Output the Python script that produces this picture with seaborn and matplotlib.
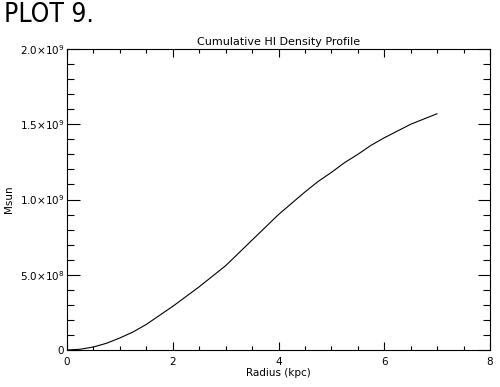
import numpy as np
import pandas as pd
import matplotlib
matplotlib.use("Agg")
import matplotlib.pyplot as plt
import seaborn as sns
from matplotlib.ticker import MultipleLocator, FixedLocator

# values
radius = [0.0, 0.25, 0.5, 0.75, 1.0, 1.25, 1.5, 1.75, 2.0, 2.25, 2.5, 2.75, 3.0,
          3.25, 3.5, 3.75, 4.0, 4.25, 4.5, 4.75, 5.0, 5.25, 5.5, 5.75, 6.0,
          6.25, 6.5, 6.75, 7.0]
msun = [0.0, 0.005e9, 0.02e9, 0.045e9, 0.08e9, 0.12e9, 0.17e9, 0.23e9, 0.29e9,
        0.355e9, 0.42e9, 0.49e9, 0.56e9, 0.645e9, 0.73e9, 0.815e9, 0.90e9,
        0.975e9, 1.05e9, 1.12e9, 1.18e9, 1.245e9, 1.30e9, 1.36e9, 1.41e9,
        1.455e9, 1.50e9, 1.535e9, 1.57e9]

ytick_vals = [0, 5e8, 1e9, 1.5e9, 2e9]
ytick_labels = ["0", r"$5.0{\times}10^{8}$", r"$1.0{\times}10^{9}$",
                r"$1.5{\times}10^{9}$", r"$2.0{\times}10^{9}$"]
xtick_vals = [0, 2, 4, 6, 8]

df = pd.DataFrame({"Radius": radius, "Msun": msun})

sns.set_style("ticks", {"text.color": "black", "axes.labelcolor": "black",
                        "xtick.color": "black", "ytick.color": "black"})
plt.rcParams["font.family"] = ["DejaVu Sans"]
plt.rcParams["mathtext.fontset"] = "dejavusans"

fig = plt.figure(figsize=(5.0, 3.87), dpi=100)
ax = fig.add_axes([67 / 500, 1 - 350 / 387, 423 / 500, 301 / 387])

sns.lineplot(data=df, x="Radius", y="Msun", ax=ax, color="black", linewidth=0.8)

ax.set_xlim(0, 8)
ax.set_ylim(0, 2e9)
ax.xaxis.set_major_locator(FixedLocator(xtick_vals))
ax.xaxis.set_minor_locator(MultipleLocator(0.5))
ax.yaxis.set_major_locator(FixedLocator(ytick_vals))
ax.yaxis.set_minor_locator(MultipleLocator(1e8))
ax.set_xticklabels([str(v) for v in xtick_vals])
ax.set_yticklabels(ytick_labels)

for s in ax.spines.values():
    s.set_linewidth(0.8)
    s.set_color("black")
    s.set_visible(True)

ax.tick_params(axis="x", which="major", direction="in", length=6, width=0.8,
               top=True, bottom=True, labelsize=7.5, pad=5, colors="black")
ax.tick_params(axis="x", which="minor", direction="in", length=3, width=0.8,
               top=True, bottom=True, colors="black")
ax.tick_params(axis="y", which="major", direction="in", length=9, width=0.8,
               left=True, right=True, labelsize=7.5, pad=2, colors="black")
ax.tick_params(axis="y", which="minor", direction="in", length=5, width=0.8,
               left=True, right=True, colors="black")

ax.set_title("Cumulative HI Density Profile", fontsize=8, pad=3, color="black")
ax.set_xlabel("Radius (kpc)", fontsize=7.5, labelpad=1, color="black")
ax.set_ylabel("Msun", fontsize=7.5, labelpad=4, color="black")

fig.text(4 / 500, 1 - 2 / 387, "PLOT 9.", fontsize=19, va="top", ha="left",
         color="black", family=["Liberation Sans Narrow", "DejaVu Sans"],
         fontstretch="condensed")

fig.savefig("out.png", dpi=100, facecolor="white")
